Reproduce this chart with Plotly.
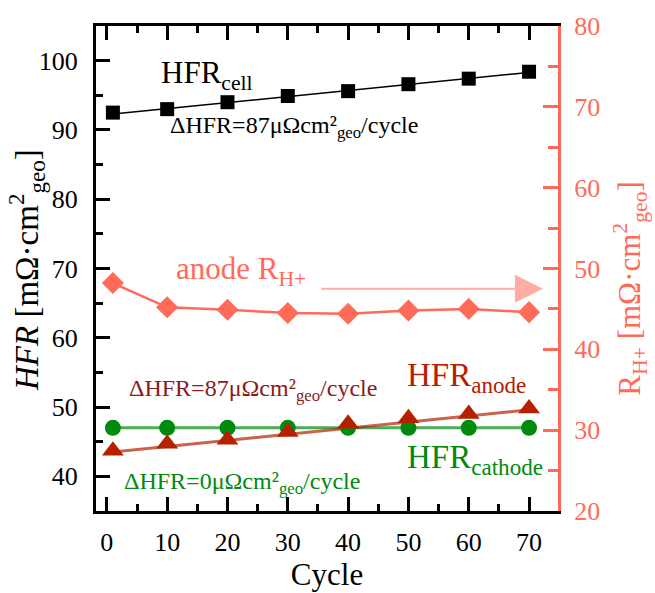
import plotly.graph_objects as go

cycles = [1, 10, 20, 30, 40, 50, 60, 70]
hfr_cell = [92.5, 93.0, 94.0, 94.9, 95.6, 96.6, 97.4, 98.4]
hfr_anode = [43.7, 44.7, 45.3, 46.4, 47.6, 48.4, 49.0, 49.8]
hfr_cathode = [47.0, 47.0, 47.0, 47.0, 47.0, 47.0, 47.0, 47.0]
r_h_anode = [48.2, 45.2, 44.9, 44.5, 44.4, 44.8, 45.0, 44.6]

fit_x = [1, 70]
fit_cell = [92.3, 98.3]
fit_anode = [43.5, 49.6]
fit_cathode = [47.0, 47.0]

SALMON = "#FF6A59"
DARKRED = "#8B1A1A"
ANODE = "#B42000"
GREEN = "#008A0E"
FONT = "Liberation Serif, Times New Roman, DejaVu Serif, serif"

fig = go.Figure()

fig.add_trace(go.Scatter(x=fit_x, y=fit_cell, mode="lines",
                         line=dict(color="black", width=1.5), showlegend=False))
fig.add_trace(go.Scatter(x=cycles, y=hfr_cell, mode="markers",
                         marker=dict(symbol="square", size=14, color="black"), showlegend=False))
fig.add_trace(go.Scatter(x=fit_x, y=fit_cathode, mode="lines",
                         line=dict(color="rgba(0,138,14,0.7)", width=3), showlegend=False))
fig.add_trace(go.Scatter(x=fit_x, y=fit_anode, mode="lines",
                         line=dict(color="rgba(180,32,0,0.7)", width=3), showlegend=False))
fig.add_trace(go.Scatter(x=cycles, y=hfr_cathode, mode="markers",
                         marker=dict(symbol="circle", size=16, color=GREEN), showlegend=False))
fig.add_trace(go.Scatter(x=cycles, y=hfr_anode, mode="markers",
                         marker=dict(symbol="triangle-up", size=19, color=ANODE), showlegend=False))
fig.add_trace(go.Scatter(x=cycles, y=r_h_anode, mode="lines+markers", yaxis="y2",
                         line=dict(color=SALMON, width=2.5),
                         marker=dict(symbol="diamond", size=17, color=SALMON), showlegend=False))

ann = []
def A(text, x, y, color, size, xref="x", yref="y", xanchor="left", angle=0):
    ann.append(dict(text=text, x=x, y=y, xref=xref, yref=yref, xanchor=xanchor,
                    yanchor="middle", showarrow=False, textangle=angle,
                    font=dict(family=FONT, size=size, color=color)))

A("HFR<sub>cell</sub>", 8.6, 98.0, "black", 31)
A("ΔHFR=87μΩcm²<sub>geo</sub>/cycle", 10.2, 90.4, "black", 24)
A("anode R<sub>H+</sub>", 11.2, 69.6, SALMON, 31)
A("ΔHFR=87μΩcm²<sub>geo</sub>/cycle", 3.4, 52.5, DARKRED, 24)
A("HFR<sub>anode</sub>", 49.4, 54.3, ANODE, 33)
A("HFR<sub>cathode</sub>", 49.4, 42.4, GREEN, 33)
A("ΔHFR=0μΩcm²<sub>geo</sub>/cycle", 2.5, 39.0, GREEN, 24)
A("<i>HFR</i> [mΩ·cm<sup>2</sup><sub>geo</sub>]", 27, 270, "black", 33,
  xref="paper", yref="paper", xanchor="center", angle=-90)
A("R<sub>H+</sub> [mΩ·cm<sup>2</sup><sub>geo</sub>]", 630, 289, SALMON, 31,
  xref="paper", yref="paper", xanchor="center", angle=-90)

# convert pixel-based paper annotations
W, H = 655, 593
L, R, T, B = 96, 97, 22, 78
for a in ann:
    if a["xref"] == "paper":
        a["x"] = (a["x"] - L) / (W - L - R)
        a["y"] = 1 - (a["y"] - T) / (H - T - B)

ann.append(dict(x=72.3, y=47.5, ax=35.3, ay=47.5, xref="x", yref="y2",
                axref="x", ayref="y2", showarrow=True, arrowhead=2,
                arrowsize=2.8, arrowwidth=2, arrowcolor="rgba(255,106,89,0.55)",
                text=""))

fig.update_layout(
    width=W, height=H,
    margin=dict(l=L, r=R, t=T, b=B),
    paper_bgcolor="white", plot_bgcolor="white",
    font=dict(family=FONT, size=26, color="black"),
    annotations=ann,
    xaxis=dict(range=[-1.8, 74.8], tickvals=[0, 10, 20, 30, 40, 50, 60, 70],
               showline=True, linecolor="black", linewidth=3, mirror="ticks",
               ticks="inside", ticklen=14, tickwidth=3, tickcolor="black",
               minor=dict(ticks="inside", ticklen=7, tickwidth=3, dtick=5, tick0=0, tickcolor="black"),
               showgrid=False, zeroline=False, ticklabelstandoff=6,
               tickfont=dict(family=FONT, size=26, color="black"),
               title=dict(text="Cycle", font=dict(family=FONT, size=31), standoff=2)),
    yaxis=dict(range=[35, 105], tickvals=[40, 50, 60, 70, 80, 90, 100],
               showline=True, linecolor="black", linewidth=3,
               ticks="inside", ticklen=14, tickwidth=3, tickcolor="black",
               minor=dict(ticks="inside", ticklen=7, tickwidth=3, dtick=5, tick0=0, tickcolor="black"),
               showgrid=False, zeroline=False, ticklabelstandoff=10,
               tickfont=dict(family=FONT, size=26, color="black")),
    yaxis2=dict(range=[20, 80], tickvals=[20, 30, 40, 50, 60, 70, 80],
                overlaying="y", side="right",
                showline=True, linecolor=SALMON, linewidth=3,
                ticks="inside", ticklen=15, tickwidth=3, tickcolor=SALMON,
                minor=dict(ticks="inside", ticklen=10, tickwidth=3, dtick=5, tick0=0, tickcolor=SALMON),
                showgrid=False, zeroline=False, ticklabelstandoff=8,
                tickfont=dict(family=FONT, size=26, color=SALMON)),
)

fig.write_html("out.html")
